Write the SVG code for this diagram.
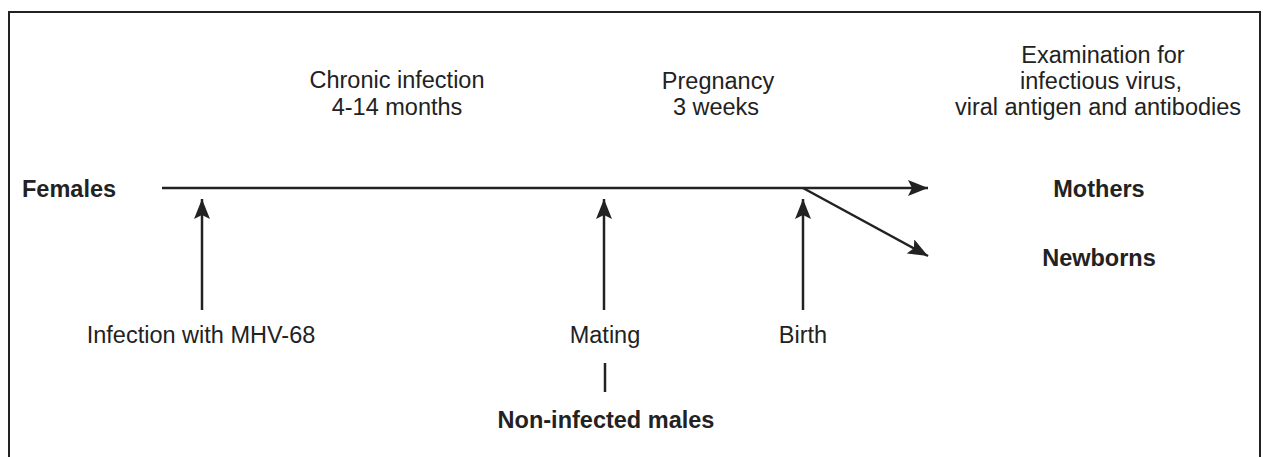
<svg xmlns="http://www.w3.org/2000/svg" width="1263" height="457" viewBox="0 0 1263 457">
<defs>
<style>
text{font-family:"Liberation Sans",Arial,sans-serif;font-size:23.5px;fill:#222}
.b{font-weight:bold}
.c{text-anchor:middle}
.ln{stroke:#222;stroke-width:2.5;fill:none}
</style>
<marker id="ah2" viewBox="0 0 20 16" refX="20" refY="8" markerWidth="20" markerHeight="16" orient="auto" markerUnits="userSpaceOnUse">
<path d="M0,0 L20,8 L0,16 L4,8 Z" fill="#222"/>
</marker>
</defs>
<rect id="frame" x="9" y="12" width="1251" height="460" fill="none" stroke="#222" stroke-width="2"/>
<g id="connectors">
<line class="ln" x1="162" y1="188" x2="928" y2="188" marker-end="url(#ah2)"/>
<line class="ln" x1="803" y1="188" x2="928" y2="256" marker-end="url(#ah2)"/>
<line class="ln" x1="202" y1="310" x2="202" y2="199" marker-end="url(#ah2)"/>
<line class="ln" x1="604" y1="310" x2="604" y2="199" marker-end="url(#ah2)"/>
<line class="ln" x1="803" y1="310" x2="803" y2="199" marker-end="url(#ah2)"/>
<line class="ln" x1="605" y1="363" x2="605" y2="392"/>
</g>
<g id="females"><text class="b" x="22" y="197">Females</text></g>
<g id="mothers"><text class="b c" x="1099" y="197">Mothers</text></g>
<g id="newborns"><text class="b c" x="1099" y="266">Newborns</text></g>
<g id="chronic"><text class="c" x="397" y="88">Chronic infection</text><text class="c" x="397" y="115">4-14 months</text></g>
<g id="pregnancy"><text class="c" x="718" y="89">Pregnancy</text><text class="c" x="716" y="115">3 weeks</text></g>
<g id="exam"><text class="c" x="1103" y="63">Examination for</text><text class="c" x="1101" y="89">infectious virus,</text><text class="c" x="1098" y="115">viral antigen and antibodies</text></g>
<g id="infection"><text class="c" x="201" y="343">Infection with MHV-68</text></g>
<g id="mating"><text class="c" x="605" y="343">Mating</text></g>
<g id="birth"><text class="c" x="803" y="343">Birth</text></g>
<g id="males"><text class="b c" x="606" y="428">Non-infected males</text></g>
</svg>
